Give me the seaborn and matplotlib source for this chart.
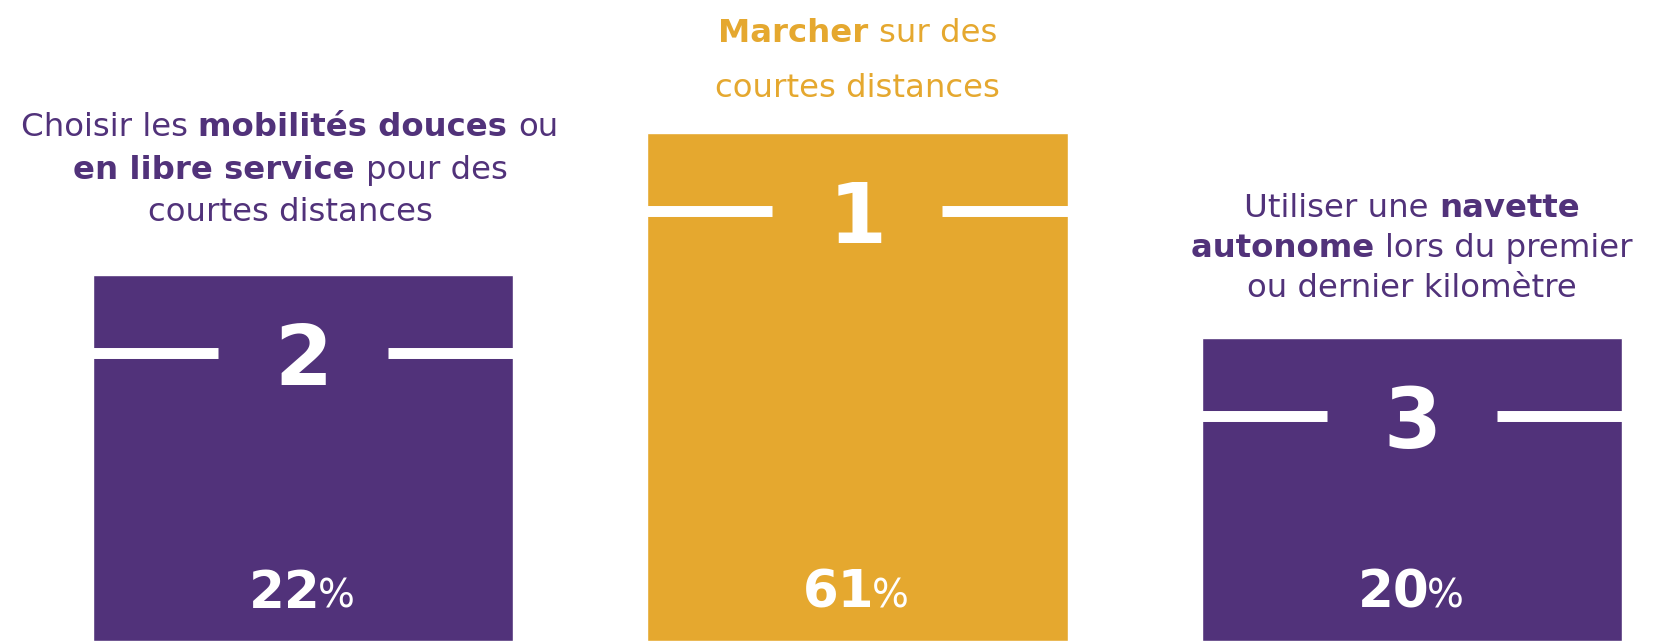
import numpy as np
import pandas as pd
import seaborn as sns
import matplotlib.pyplot as plt

# podium : rang, part des répondants, hauteur de marche
ranks = ['2', '1', '3']
shares = [22, 61, 20]
podium = [366, 508, 303]
bar_colors = ['#51327A', '#E5A82F', '#51327A']

# libellés au-dessus des marches (texte, gras ?)
labels = [
    [[('Choisir les ', False), ('mobilités douces ', True), ('ou', False)],
     [('en libre service ', True), ('pour des', False)],
     [('courtes distances', False)]],
    [[('Marcher ', True), ('sur des', False)],
     [('courtes distances', False)]],
    [[('Utiliser une ', False), ('navette', True)],
     [('autonome ', True), ('lors du premier', False)],
     [('ou dernier kilomètre', False)]],
]
label_baselines = [[136, 179, 221], [42, 97], [217, 257, 297]]

sns.set_style('white')
plt.rcParams['font.family'] = ['DejaVu Sans']

W, H = 1654, 641
fig = plt.figure(figsize=(W / 100, H / 100), dpi=100)
ax = fig.add_axes([0, 0, 1, 1])

bar_w = 0.7575
df = pd.DataFrame({'rank': ranks, 'h': podium})
sns.barplot(data=df, x='rank', y='h', hue='rank', palette=dict(zip(ranks, bar_colors)),
            width=bar_w, saturation=1, legend=False, ax=ax)
ax.set_xlim(-0.5465, 2.4365)
ax.set_ylim(0, H)
ax.axis('off')

renderer = fig.canvas.get_renderer()


def text_width(s, size, bold):
    w = 'bold' if bold else 'normal'
    t1 = fig.text(0, 0, '|' + s + '|', fontsize=size, fontweight=w)
    t2 = fig.text(0, 0, '||', fontsize=size, fontweight=w)
    d = t1.get_window_extent(renderer).width - t2.get_window_extent(renderer).width
    t1.remove()
    t2.remove()
    return d


def rich_line(xc, y, parts, color, squeeze=0):
    # parts: (texte, gras, taille)
    px, py = ax.transData.transform((xc, y))
    widths = [text_width(s, sz, b) - squeeze for s, b, sz in parts]
    x0 = px - sum(widths) / 2
    for (s, b, sz), w in zip(parts, widths):
        fig.text(x0 / W, py / H, s, fontsize=sz, fontweight='bold' if b else 'normal',
                 color=color, ha='left', va='baseline')
        x0 += w


gap = 85 / 554.5
for i, h in enumerate(podium):
    y = h - 78
    ax.plot([i - bar_w / 2, i - gap], [y, y], color='white', lw=7.9, solid_capstyle='butt')
    ax.plot([i + gap, i + bar_w / 2], [y, y], color='white', lw=7.9, solid_capstyle='butt')
    ax.text(i, y - 32, ranks[i], ha='center', va='baseline', fontsize=60,
            fontweight='bold', color='white')
    rich_line(i - 3 / 554.5, 33, [(str(shares[i]), True, 37), ('%', False, 28)], 'white',
              squeeze=3)

label_dx = [-13 / 554.5, 0, 0]
for i, lines in enumerate(labels):
    for line, base in zip(lines, label_baselines[i]):
        rich_line(i + label_dx[i], H - base, [(s, b, 23.3) for s, b in line], bar_colors[i])

fig.savefig('out.png', dpi=100)
